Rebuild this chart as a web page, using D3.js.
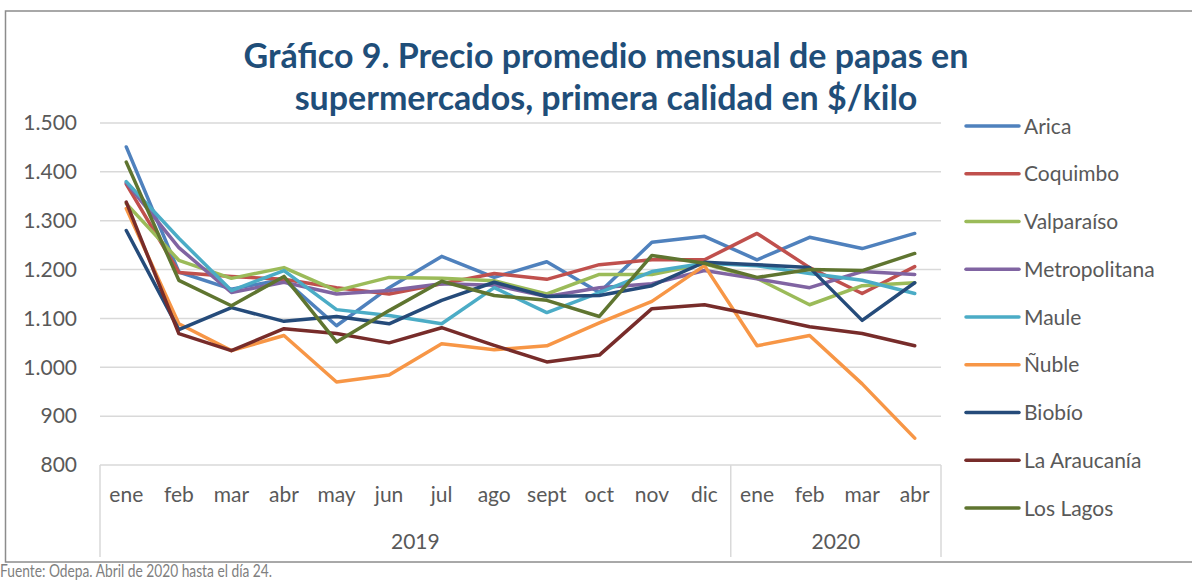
<!DOCTYPE html>
<html><head><meta charset="utf-8">
<script src="https://cdn.jsdelivr.net/npm/d3@7"></script>
<style>
html,body{margin:0;padding:0;background:#fff;}
svg{display:block;font-family:Lato, "Open Sans", sans-serif;}
</style></head>
<body><svg id="c" width="1192" height="580"></svg>
<script>
const months = ["ene","feb","mar","abr","may","jun","jul","ago","sept","oct","nov","dic","ene","feb","mar","abr"];
const years = [{label:"2019", n:12},{label:"2020", n:4}];
const yTicks = [800,900,1000,1100,1200,1300,1400,1500];
const seriesNames = ["Arica","Coquimbo","Valparaíso","Metropolitana","Maule","Ñuble","Biobío","La Araucanía","Los Lagos"];
const arica        = [1451,1195,1160,1180,1085,1163,1227,1184,1216,1153,1256,1268,1220,1266,1243,1274];
const coquimbo     = [1375,1194,1186,1180,1163,1150,1171,1192,1180,1210,1220,1220,1274,1204,1151,1206];
const valparaiso   = [1335,1219,1182,1204,1157,1184,1182,1177,1150,1190,1190,1212,1182,1128,1167,1173];
const metropolitana= [1378,1245,1153,1174,1150,1157,1171,1168,1145,1163,1171,1198,1181,1163,1196,1190];
const maule        = [1380,1264,1157,1198,1118,1106,1089,1163,1112,1153,1196,1213,1208,1192,1178,1151];
const nuble        = [1325,1089,1034,1065,970,984,1048,1036,1044,1091,1135,1208,1044,1065,966,855];
const biobio       = [1280,1077,1122,1094,1104,1089,1137,1174,1145,1147,1167,1215,1210,1204,1096,1173];
const araucania    = [1338,1069,1034,1079,1069,1050,1081,1045,1011,1025,1120,1128,1106,1083,1069,1044];
const losLagos     = [1420,1178,1126,1186,1052,1116,1176,1147,1137,1104,1229,1213,1184,1200,1198,1233];
const seriesValues = [arica,coquimbo,valparaiso,metropolitana,maule,nuble,biobio,araucania,losLagos];
const colors = ["#4F81BD","#C0504D","#9BBB59","#8064A2","#4BACC6","#F79646","#254B7A","#772C2A","#5F7530"];
const titleLines = ["Gráfico 9. Precio promedio mensual de papas en","supermercados, primera calidad en $/kilo"];
const source = "Fuente: Odepa. Abril de 2020 hasta el día 24.";

const svg = d3.select("#c");
const L=100, R=941, T=123, B=465;
const x = d3.scaleBand().domain(d3.range(months.length)).range([L,R]);
const y = d3.scaleLinear().domain([800,1500]).range([B,T]);
const fmt = d3.formatLocale({decimal:",",thousands:".",grouping:[3]}).format(",d");

// outer frame
svg.append("rect").attr("x",5.5).attr("y",11).attr("width",1200).attr("height",551)
  .attr("fill","none").attr("stroke","#8c8c8c").attr("stroke-width",1.5);

// y axis labels + gridlines
const yAxis = d3.axisLeft(y).tickValues(yTicks).tickSize(0).tickFormat(fmt);
const gy = svg.append("g").attr("transform",`translate(${L},0)`).call(yAxis);
gy.select(".domain").remove();
gy.selectAll("text").attr("x",-23).attr("fill","#595959").style("font-size","21px").style("font-family","Lato");
svg.append("g").selectAll("line").data(yTicks.filter(d=>d>800)).join("line")
  .attr("x1",L).attr("x2",R).attr("y1",d=>y(d)).attr("y2",d=>y(d))
  .attr("stroke","#d9d9d9").attr("stroke-width",1.5);

// category axis box
const axisColor="#d9d9d9";
svg.append("line").attr("x1",L).attr("x2",R).attr("y1",B).attr("y2",B).attr("stroke",axisColor).attr("stroke-width",1.5);
let acc=0; const seps=[0];
years.forEach(yr=>{acc+=yr.n; seps.push(acc);});
svg.append("g").selectAll("line").data(seps).join("line")
  .attr("x1",d=> d<months.length ? x(d) : R).attr("x2",d=> d<months.length ? x(d) : R)
  .attr("y1",B).attr("y2",557).attr("stroke",axisColor).attr("stroke-width",1.5);

const xAxis = d3.axisBottom(x).tickSize(0).tickFormat(i=>months[i]);
const gx = svg.append("g").attr("transform",`translate(0,${B})`).call(xAxis);
gx.select(".domain").remove();
gx.selectAll("text").attr("y",22).attr("dy","0.71em").attr("fill","#595959").style("font-size","21px").style("font-family","Lato");

let start=0;
years.forEach(yr=>{
  const x0=x(start), x1 = (start+yr.n<months.length)? x(start+yr.n) : R;
  svg.append("text").attr("x",(x0+x1)/2).attr("y",549).attr("text-anchor","middle")
    .attr("fill","#595959").style("font-size","21px").text(yr.label);
  start+=yr.n;
});

// lines
const line = d3.line().x((d,i)=>x(i)+x.bandwidth()/2).y(d=>y(d));
svg.append("g").selectAll("path").data(seriesValues).join("path")
  .attr("d",line).attr("fill","none").attr("stroke",(d,i)=>colors[i])
  .attr("stroke-width",3.5).attr("stroke-linejoin","round").attr("stroke-linecap","round");

// legend
const lg = svg.append("g").selectAll("g").data(seriesNames).join("g")
  .attr("transform",(d,i)=>`translate(966,${126+i*47.75})`);
lg.append("line").attr("x1",0).attr("x2",53).attr("stroke",(d,i)=>colors[i]).attr("stroke-width",3.5).attr("stroke-linecap","round");
lg.append("text").attr("x",58).attr("dy","0.36em").attr("fill","#595959").style("font-size","21px").text(d=>d);

// title
svg.append("g").selectAll("text").data(titleLines).join("text")
  .attr("x",606).attr("y",(d,i)=>68+i*42).attr("text-anchor","middle")
  .attr("fill","#1F4E79").style("font-size","34px").style("font-weight","bold").text(d=>d);

svg.append("text").attr("x",0).attr("y",577).attr("fill","#7f7f7f").style("font-size","17px")
  .attr("textLength",272).attr("lengthAdjust","spacingAndGlyphs").text(source);
</script></body></html>
